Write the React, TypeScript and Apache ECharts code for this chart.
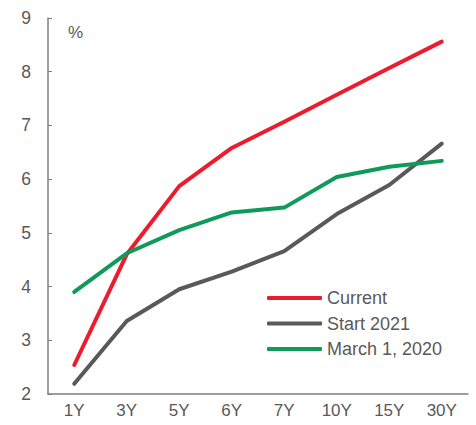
import React, { useEffect, useRef } from "react";
import * as echarts from "echarts";

const categories = ["1Y", "3Y", "5Y", "6Y", "7Y", "10Y", "15Y", "30Y"];
const current = [2.54, 4.6, 5.87, 6.58, 7.07, 7.57, 8.07, 8.56];
const start2021 = [2.19, 3.36, 3.95, 4.28, 4.66, 5.35, 5.89, 6.66];
const march2020 = [3.9, 4.62, 5.05, 5.38, 5.47, 6.04, 6.23, 6.34];
const yTicks = { min: 2, max: 9, interval: 1 };

const RED = "#EC1C2E";
const GRAY = "#595959";
const GREEN = "#0F9A5A";
const TEXT = "#595959";
const AXIS = "#7F7F7F";
const FONT = "Liberation Sans, Arial, sans-serif";

export default function App() {
  const ref = useRef<HTMLDivElement>(null);
  useEffect(() => {
    if (!ref.current) return;
    const chart = echarts.init(ref.current, undefined, { renderer: "svg" });
    const mk = (name: string, data: number[], color: string) => ({
      name,
      type: "line",
      data,
      symbol: "none",
      lineStyle: { width: 4, color, cap: "round", join: "round" },
      itemStyle: { color },
    });
    chart.setOption({
      animation: false,
      textStyle: { fontFamily: FONT },
      grid: { left: 48, right: 8, top: 18, bottom: 31, containLabel: false },
      legend: {
        orient: "vertical",
        left: 267,
        top: 289,
        padding: 0,
        itemWidth: 55,
        itemHeight: 4,
        itemGap: 7.5,
        icon: "roundRect",
        textStyle: { color: TEXT, fontSize: 18, fontFamily: FONT },
        data: ["Current", "Start 2021", "March 1, 2020"],
      },
      xAxis: {
        type: "category",
        data: categories,
        boundaryGap: true,
        axisLine: { lineStyle: { color: AXIS, width: 1.5 } },
        axisTick: { inside: true, length: 4, lineStyle: { color: AXIS } },
        axisLabel: { color: TEXT, fontSize: 17, margin: 8, fontFamily: FONT },
        splitLine: { show: false },
      },
      yAxis: {
        type: "value",
        min: yTicks.min,
        max: yTicks.max,
        interval: yTicks.interval,
        axisLine: { show: true, lineStyle: { color: AXIS, width: 1.5 } },
        axisTick: { show: true, inside: true, length: 4, lineStyle: { color: AXIS } },
        axisLabel: { color: TEXT, fontSize: 17.5, margin: 17, fontFamily: FONT },
        splitLine: { show: false },
      },
      graphic: [
        {
          type: "text",
          left: 68,
          top: 24,
          style: { text: "%", fill: TEXT, fontSize: 17, fontFamily: FONT },
        },
      ],
      series: [
        mk("Current", current, RED),
        mk("Start 2021", start2021, GRAY),
        mk("March 1, 2020", march2020, GREEN),
      ],
    });
    return () => chart.dispose();
  }, []);
  return <div ref={ref} style={{ width: 476, height: 425, position: "absolute", left: 0, top: 0 }} />;
}
